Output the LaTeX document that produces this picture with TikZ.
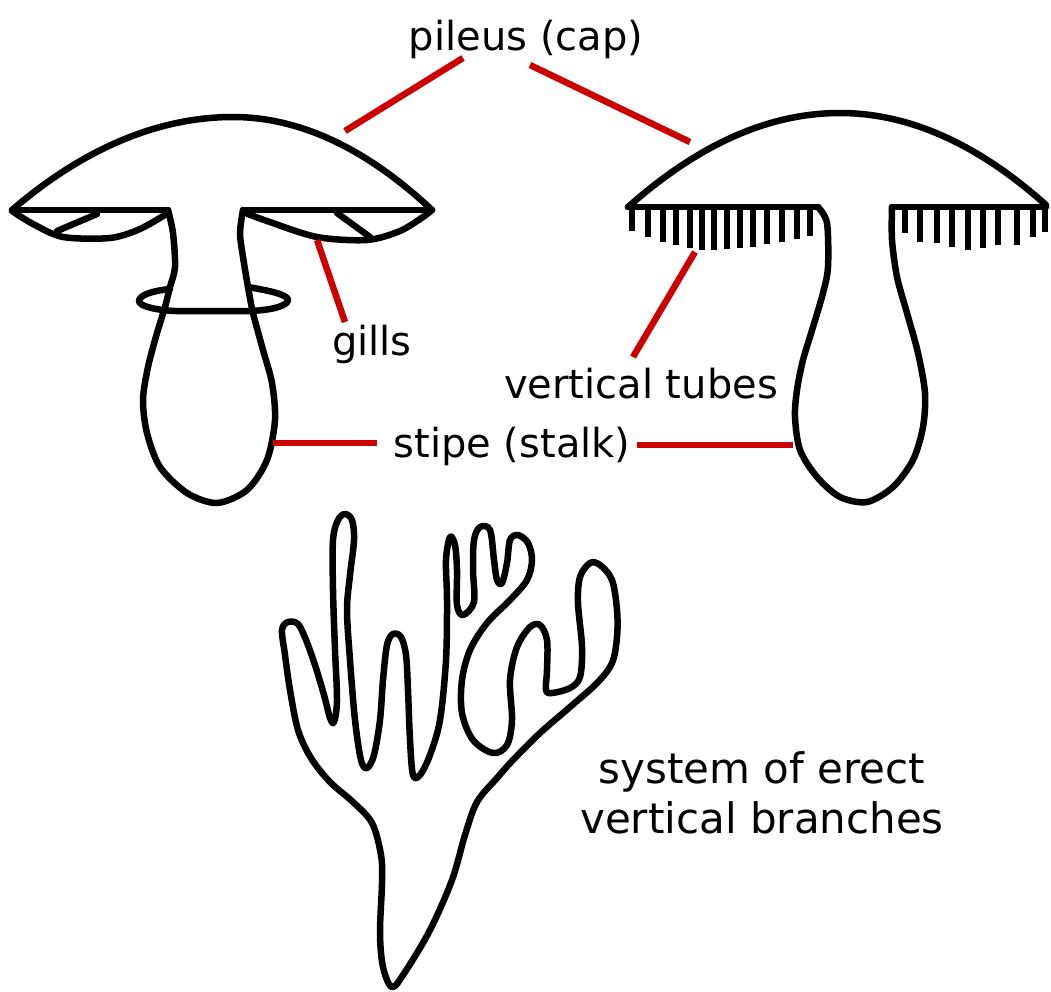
\documentclass[tikz,border=0pt]{standalone}
\usepackage{fontspec}
\setmainfont{DejaVu Sans}
\definecolor{labelred}{RGB}{204,0,0}
\begin{document}
\begin{tikzpicture}[x=1pt,y=-1pt,
  outline/.style={line width=6.5pt, line join=round, line cap=round},
  tube/.style={line width=6pt},
  pointer/.style={draw=labelred, line width=6.5pt},
  lbl/.style={font=\fontsize{40}{48}\selectfont, anchor=base, inner sep=0pt}]
\useasboundingbox (0,0) rectangle (1051,991);

% ---------- gilled mushroom (left) ----------
\draw[outline] (12,210) .. controls (84,148) and (159,117) .. (233,117)
  .. controls (299,117) and (366,148) .. (432,210);
\draw[outline] (12,210) -- (168,210) (243,210) -- (432,210);
% gills under the cap
\draw[outline] plot[smooth] coordinates {(12,211) (33,224) (63,237) (110,238) (140,229) (168,213)};
\draw[outline] (57,231) -- (97,214);
\draw[outline] plot[smooth] coordinates {(243,212) (267,221) (317,237) (367,240) (400,231) (423,217) (432,210)};
\draw[outline] (337,213) -- (370,237);
% stipe
\draw[outline] plot[smooth] coordinates {(168,210) (173,233) (175,267) (170,287) (165,307) (157,333)
  (148,367) (143,400) (147,433) (160,467) (187,493) (217,503) (247,490) (267,460) (275,420)
  (272,383) (263,350) (253,313) (248,287) (243,257) (240,233) (243,210)};
% ring round the stipe
\draw[outline] (170,289) .. controls (150,291) and (139,296) .. (139,301)
  .. controls (139,306) and (155,310) .. (175,311) -- (250,311)
  .. controls (275,310) and (288,305) .. (288,300)
  .. controls (288,294) and (265,290) .. (248,287);

% ---------- pored mushroom (right) ----------
\draw[outline] (628,207) .. controls (699,144) and (769,113) .. (840,113)
  .. controls (909,113) and (978,144) .. (1046,205);
\draw[outline] (628,207) -- (818,207) (892,207) -- (1046,207);
% vertical tubes
\foreach \x/\y in {632/231, 648/237, 663/242, 676/245, 690/248, 702/250, 714/250, 727/249,
                   740/248, 753/247, 767/244, 782/242, 797/239, 810/236}
  \draw[tube] (\x,207) -- (\x,\y);
\foreach \x/\y in {905/233, 920/242, 937/243, 952/247, 968/250, 983/248, 998/245,
                   1017/245, 1033/237, 1045/232}
  \draw[tube] (\x,207) -- (\x,\y);
% stipe
\draw[outline] plot[smooth] coordinates {(818,207) (827,223) (828,267) (823,293) (813,327)
  (803,360) (797,390) (795,417) (800,450) (817,477) (840,497) (867,502) (893,487) (913,460)
  (923,427) (925,393) (918,353) (907,313) (897,277) (892,240) (892,207)};

% ---------- branched fruit body ----------
\draw[outline] plot[smooth cycle, tension=0.55] coordinates {
  (392,987) (383,967) (380,933) (382,883) (381,855) (372,823) (353,802) (330,782) (311,758)
  (298,730) (290,690) (285,655) (282,630) (288,622) (298,624) (306,640) (315,665) (324,695)
  (330,718) (334,722) (337,700) (335,650) (333,590) (333,540) (338,520) (345,514) (352,520)
  (354,540) (350,575) (347,610) (350,660) (355,720) (361,760) (367,768) (374,755) (380,720)
  (383,680) (387,645) (393,634) (401,637) (406,655) (408,690) (410,740) (413,775) (420,775)
  (430,755) (440,720) (446,660) (447,600) (446,560) (450,537) (455,545) (457,570) (457,605)
  (463,615) (474,602) (473,570) (474,540) (480,527) (490,530) (494,560) (497,580) (502,583)
  (507,563) (510,540) (518,535) (528,543) (532,560) (527,580) (510,600) (487,623) (470,650)
  (462,680) (462,713) (473,740) (493,753) (507,745) (512,720) (510,680) (517,647) (530,627)
  (540,625) (547,640) (547,670) (546,690) (552,693) (570,688) (580,677) (582,647) (578,603)
  (580,577) (590,563) (600,565) (612,580) (617,610) (617,637) (612,663) (597,683) (570,707)
  (540,733) (513,760) (497,778) (477,802) (465,835) (452,880) (430,930) (405,972)};

% ---------- labels ----------
\node[lbl] (pileus) at (526,50) {pileus (cap)};
\node[lbl] (gills) at (372,355) {gills};
\node[lbl] (tubes) at (641,398) {vertical tubes};
\node[lbl] (stipe) at (512,457) {stipe (stalk)};
\node[lbl, font=\fontsize{42}{50}\selectfont] (sys1) at (762,783) {system of erect};
\node[lbl, font=\fontsize{42}{50}\selectfont] (sys2) at (762,833) {vertical branches};

% ---------- pointer lines ----------
\coordinate (pil-a) at (463,58);  \coordinate (capL) at (345,131);
\coordinate (pil-b) at (530,65);  \coordinate (capR) at (690,142);
\coordinate (gil-a) at (345,322); \coordinate (gillL) at (317,240);
\coordinate (tub-a) at (633,357); \coordinate (tubeR) at (695,252);
\coordinate (sti-a) at (377,443); \coordinate (stipeL) at (273,443);
\coordinate (sti-b) at (637,445); \coordinate (stipeR) at (793,445);
\draw[pointer] (pil-a) -- (capL);
\draw[pointer] (pil-b) -- (capR);
\draw[pointer] (gil-a) -- (gillL);
\draw[pointer] (tub-a) -- (tubeR);
\draw[pointer] (sti-a) -- (stipeL);
\draw[pointer] (sti-b) -- (stipeR);
\end{tikzpicture}
\end{document}
